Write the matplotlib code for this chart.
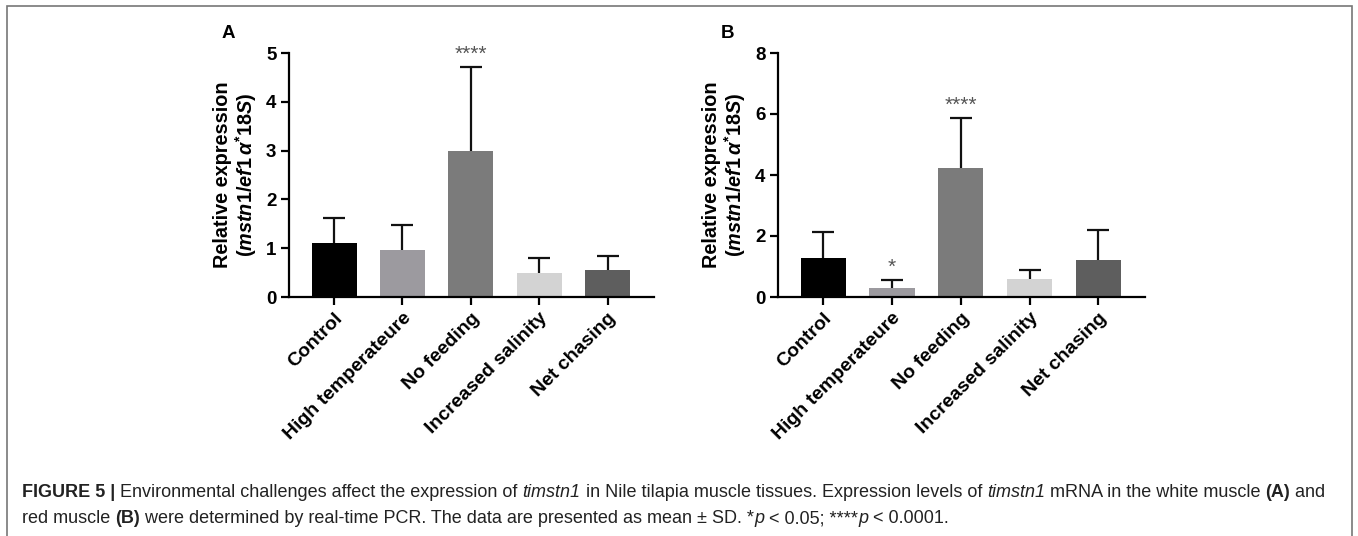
import matplotlib
matplotlib.use("Agg")
import matplotlib.pyplot as plt
from matplotlib.patches import Rectangle

plt.rcParams['font.family'] = ['Liberation Sans', 'DejaVu Sans']
plt.rcParams['mathtext.fontset'] = 'custom'
plt.rcParams['mathtext.rm'] = 'Liberation Sans:bold'
plt.rcParams['mathtext.it'] = 'Liberation Sans:italic:bold'
plt.rcParams['mathtext.bf'] = 'Liberation Sans:bold'

groups = ["Control", "High temperateure", "No feeding", "Increased salinity", "Net chasing"]
colors = ["#000000", "#9c9a9f", "#7b7b7b", "#d3d3d3", "#5e5e5e"]

white_mean = [1.10, 0.97, 3.00, 0.50, 0.56]
white_sd = [0.52, 0.50, 1.72, 0.29, 0.28]
red_mean = [1.28, 0.28, 4.24, 0.59, 1.20]
red_sd = [0.84, 0.28, 1.64, 0.29, 1.00]

white_stars = ["", "", "****", "", ""]
red_stars = ["", "*", "****", "", ""]

W, H = 1358, 536
fig = plt.figure(figsize=(W / 100, H / 100), dpi=100)

# outer frame of the figure box
fig.patches.append(Rectangle((7 / W, -0.05), (1352 - 7) / W, 1.05 - 6 / H,
                             transform=fig.transFigure, fill=False,
                             edgecolor="#777777", linewidth=1.2))


def panel(left, right, means, sds, stars, ymax, yticks, letter, letter_x):
    ax = fig.add_axes([left / W, 1 - 297 / H, (right - left) / W, (297 - 53) / H])
    x = list(range(len(groups)))
    ax.bar(x, means, width=0.66, color=colors, zorder=2)
    eb = ax.errorbar(x, means, yerr=[[0] * len(sds), sds], fmt="none", ecolor="#111111",
                     elinewidth=1.6, capsize=8, capthick=1.6, zorder=1)
    # keep only the upper caps
    for cap in eb[1]:
        if list(cap.get_ydata()) == list(means):
            cap.set_visible(False)
    for xi, m, s, st in zip(x, means, sds, stars):
        if st:
            ax.annotate(st, (xi, m + s), xytext=(0, 5), textcoords="offset points",
                        ha="center", va="baseline", fontsize=15, color="#555555",
                        annotation_clip=False)
    ax.set_xlim(-0.66, 4.68)
    ax.set_ylim(0, ymax)
    ax.set_yticks(yticks)
    ax.set_xticks(x)
    ax.set_xticklabels(groups, rotation=45, ha="right", rotation_mode="anchor",
                       fontsize=14, fontweight="bold")
    for lab in ax.get_yticklabels():
        lab.set_fontsize(13.5)
        lab.set_fontweight("bold")
    for side in ["top", "right"]:
        ax.spines[side].set_visible(False)
    for side in ["left", "bottom"]:
        ax.spines[side].set_linewidth(1.6)
    ax.tick_params(axis="both", width=1.6, length=6, pad=3)
    ax.set_ylabel("Relative expression\n" + r"($\mathit{mstn1/ef1\,\alpha^{*}18S}$)",
                  fontsize=14.3, fontweight="bold", labelpad=5, linespacing=1.05)
    fig.text(letter_x / W, 1 - 33 / H, letter, fontsize=13.5, fontweight="bold",
             ha="center", va="center")
    return ax


panel(289, 654, white_mean, white_sd, white_stars, 5, [0, 1, 2, 3, 4, 5], "A", 228)
panel(778, 1145, red_mean, red_sd, red_stars, 8, [0, 2, 4, 6, 8], "B", 727)

# caption with mixed styles, placed run by run
renderer = fig.canvas.get_renderer()
cap_size = 12.95
line1 = [("FIGURE 5 | ", "bold", "normal"),
         ("Environmental challenges affect the expression of ", "normal", "normal"),
         ("timstn1", "normal", "italic"),
         (" in Nile tilapia muscle tissues. Expression levels of ", "normal", "normal"),
         ("timstn1", "normal", "italic"),
         (" mRNA in the white muscle ", "normal", "normal"),
         ("(A)", "bold", "normal"),
         (" and", "normal", "normal")]
line2 = [("red muscle ", "normal", "normal"),
         ("(B)", "bold", "normal"),
         (" were determined by real-time PCR. The data are presented as mean \u00b1 SD. *", "normal", "normal"),
         ("p", "normal", "italic"),
         (" < 0.05; ****", "normal", "normal"),
         ("p", "normal", "italic"),
         (" < 0.0001.", "normal", "normal")]


def write_line(runs, x0, y0):
    xpx = x0
    for txt, wt, st in runs:
        t = fig.text(xpx / W, 1 - y0 / H, txt, fontsize=cap_size, fontweight=wt,
                     fontstyle=st, ha="left", va="baseline", color="#222222")
        bb = t.get_window_extent(renderer=renderer)
        xpx += bb.width


write_line(line1, 22, 497)
write_line(line2, 22, 523)

fig.savefig("out.png", dpi=100)
